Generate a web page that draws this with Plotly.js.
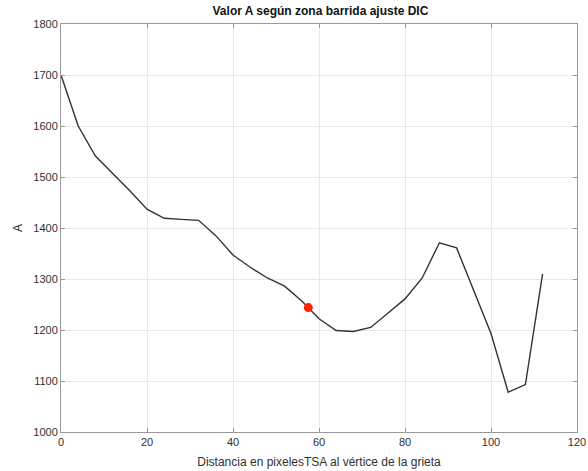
<!DOCTYPE html>
<html>
<head>
<meta charset="utf-8">
<script src="https://cdn.plot.ly/plotly-3.0.1.min.js"></script>
<style>html,body{margin:0;padding:0;background:#fff;}#chart{width:588px;height:471px;}</style>
</head>
<body>
<div id="chart"></div>
<script>
const distancia = [0, 4, 8, 12, 16, 20, 24, 28, 32, 36, 40, 44, 48, 52, 56, 60, 64, 68, 72, 76, 80, 84, 88, 92, 96, 100, 104, 108, 112];
const valorA = [1700, 1600, 1541, 1508, 1473, 1437, 1419, 1417, 1415, 1385, 1347, 1323, 1302, 1286, 1257, 1222, 1199, 1197, 1205, 1233, 1261, 1302, 1371, 1361, 1277, 1193, 1078, 1093, 1310];
const puntoX = [57.5];
const puntoY = [1244];
const xTicks = [0, 20, 40, 60, 80, 100, 120];
const yTicks = [1000, 1100, 1200, 1300, 1400, 1500, 1600, 1700, 1800];

const font = {family: '"Liberation Sans", Arial, sans-serif', color: '#262626'};
const axisCommon = {
  showline: true, linecolor: '#999999', linewidth: 1, mirror: 'ticks',
  ticks: 'inside', ticklen: 4, tickcolor: '#999999',
  showgrid: true, gridcolor: '#e8e8e8', gridwidth: 1,
  zeroline: false, tickfont: {family: font.family, size: 11, color: '#303030'}
};
const data = [
  {x: distancia, y: valorA, type: 'scatter', mode: 'lines', line: {color: '#333333', width: 1.4}, hoverinfo: 'skip'},
  {x: puntoX, y: puntoY, type: 'scatter', mode: 'markers', marker: {color: '#ff2200', size: 9}, hoverinfo: 'skip'}
];
const layout = {
  width: 588, height: 471,
  margin: {l: 61, r: 11, t: 24, b: 39},
  paper_bgcolor: '#fff', plot_bgcolor: '#fff',
  showlegend: false,
  font: font,
  title: {text: '<b>Valor A según zona barrida ajuste DIC</b>', font: {family: font.family, size: 12, color: '#111'}, x: 0.545, xanchor: 'center', y: 0.985, yanchor: 'top'},
  xaxis: Object.assign({}, axisCommon, {range: [0, 120], tickvals: xTicks, ticktext: xTicks.map(String),
    title: {text: 'Distancia en pixelesTSA al vértice de la grieta', font: {family: font.family, size: 12, color: '#303030'}, standoff: 10}}),
  yaxis: Object.assign({}, axisCommon, {range: [1000, 1800], tickvals: yTicks, ticktext: yTicks.map(String),
    title: {text: 'A', font: {family: font.family, size: 12, color: '#303030'}, standoff: 8}})
};
Plotly.newPlot('chart', data, layout, {staticPlot: true, displayModeBar: false});
</script>
</body>
</html>
